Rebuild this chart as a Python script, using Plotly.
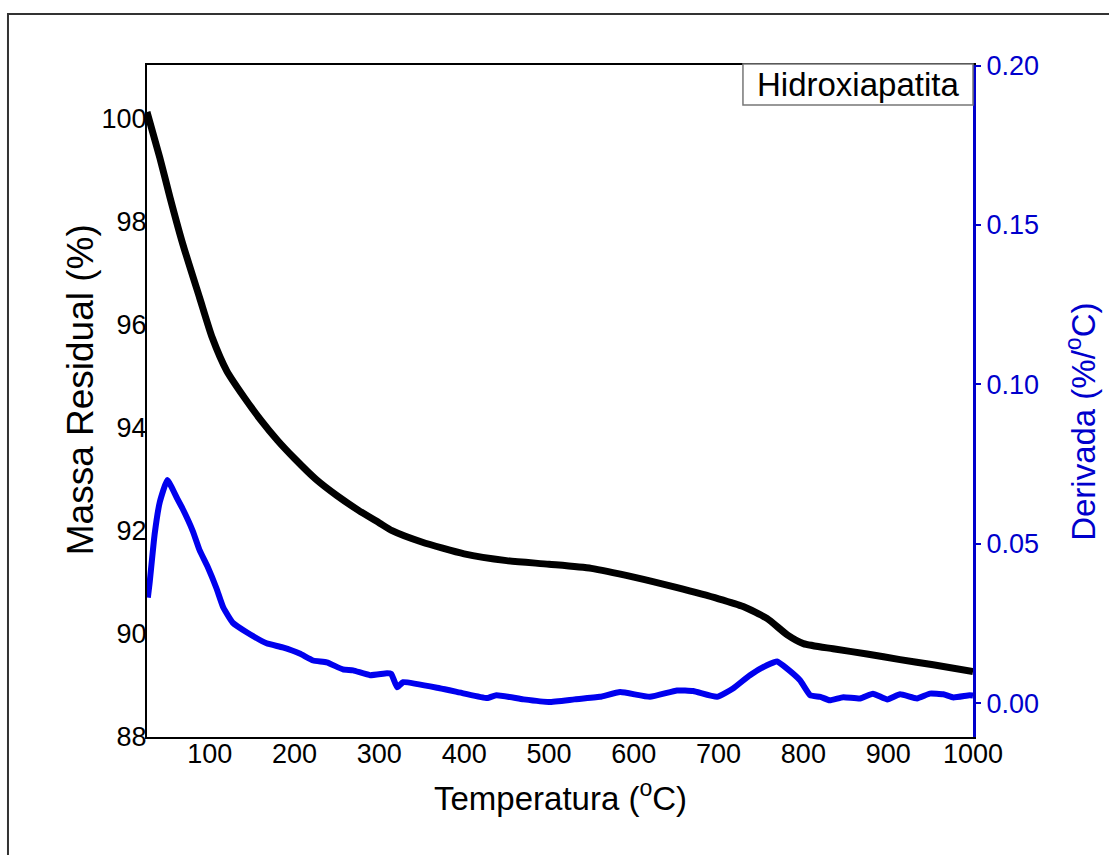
import plotly.graph_objects as go

# TGA of hydroxyapatite: residual mass (%) and its derivative (%/°C)
temp_mass = [26, 41, 53, 68, 88, 103, 120, 140, 160, 180, 200, 225, 250, 275, 300,
             315, 350, 400, 450, 500, 550, 600, 650, 700, 729, 757, 781, 800, 835,
             875, 914, 953, 1000]
mass = [100.12, 99.24, 98.47, 97.57, 96.52, 95.74, 95.1, 94.6, 94.15, 93.75, 93.4,
        93.0, 92.68, 92.4, 92.15, 92.0, 91.78, 91.55, 91.42, 91.35, 91.27, 91.1,
        90.9, 90.68, 90.53, 90.30, 89.98, 89.81, 89.71, 89.61, 89.5, 89.40, 89.27]

temp_deriv = [27, 29, 35, 41, 50, 62, 68, 80, 88, 98, 108, 116, 127, 144, 167, 186,
              206, 222, 238, 257, 269, 289, 309, 314, 321, 328, 371, 399, 427, 438,
              470, 500, 530, 560, 584, 619, 651, 670, 698, 717, 737, 757, 769, 780,
              796, 808, 820, 831, 847, 867, 882, 899, 914, 934, 949, 965, 977, 996, 1000]
deriv = [0.0331, 0.0375, 0.053, 0.063, 0.070, 0.064, 0.061, 0.054, 0.048, 0.0425,
         0.036, 0.030, 0.0253, 0.0222, 0.0188, 0.0175, 0.0156, 0.0134, 0.0128, 0.0106,
         0.0103, 0.0088, 0.0094, 0.0092, 0.005, 0.0066, 0.0047, 0.0031, 0.0016, 0.0025,
         0.0012, 0.0004, 0.0012, 0.002, 0.0035, 0.002, 0.004, 0.0038, 0.002, 0.0046,
         0.0088, 0.0119, 0.0131, 0.011, 0.0072, 0.0025, 0.002, 0.0009, 0.0019, 0.0015,
         0.003, 0.0012, 0.0028, 0.0015, 0.003, 0.0028, 0.0018, 0.0025, 0.0024]

BLUE = "#0000ee"
AXIS_BLUE = "#0000cc"
font_family = "Liberation Sans, Arial, sans-serif"

fig = go.Figure()
fig.add_trace(go.Scatter(x=temp_mass, y=mass, mode="lines",
                         line=dict(color="black", width=7, shape="spline", smoothing=0.6),
                         showlegend=False))
fig.add_trace(go.Scatter(x=temp_deriv, y=deriv, mode="lines", yaxis="y2",
                         line=dict(color=BLUE, width=6, shape="spline", smoothing=0.4),
                         showlegend=False))

fig.update_layout(
    width=1109, height=855,
    margin=dict(l=147, r=136, t=65, b=118),
    paper_bgcolor="white", plot_bgcolor="white",
    font=dict(family=font_family, size=27, color="black"),
    xaxis=dict(range=[26, 1000], tick0=100, dtick=100, showgrid=False, zeroline=False,
               showline=True, linecolor="black", linewidth=2, mirror=True, ticks="",
               ticklabelstandoff=-8, tickfont=dict(size=27)),
    yaxis=dict(range=[88, 101.03], dtick=2, showgrid=False, zeroline=False,
               showline=True, linecolor="black", linewidth=2, ticks="",
               ticklabelstandoff=-7, tickfont=dict(size=27)),
    yaxis2=dict(range=[-0.0106, 0.2002], overlaying="y", side="right",
                tickvals=[0.0, 0.05, 0.10, 0.15, 0.20], tickformat=".2f",
                showgrid=False, zeroline=False, showline=True, linecolor=AXIS_BLUE,
                linewidth=3, ticks="outside", ticklen=5, tickwidth=2, tickcolor=AXIS_BLUE,
                tickfont=dict(size=27, color=AXIS_BLUE)),
    shapes=[
        # outer frame
        dict(type="rect", xref="paper", yref="paper", x0=-0.1683, x1=1.3, y0=-0.4, y1=1.0759,
             line=dict(color="#333333", width=2), fillcolor="rgba(0,0,0,0)", layer="below"),
        # label box
        dict(type="rect", xref="paper", yref="paper", x0=0.7215, x1=1.0, y0=0.9405, y1=1.0015,
             line=dict(color="#777777", width=1.5), fillcolor="white", layer="above"),
    ],
    annotations=[
        dict(text="Hidroxiapatita", xref="paper", yref="paper", x=0.8607, y=0.971,
             xanchor="center", yanchor="middle", showarrow=False,
             font=dict(size=33, color="black", family=font_family)),
        dict(text="Temperatura (<sup>o</sup>C)", xref="paper", yref="paper", x=0.5, y=-0.088,
             xanchor="center", yanchor="middle", showarrow=False,
             font=dict(size=33, color="black", family=font_family)),
        dict(text="Massa Residual (%)", xref="paper", yref="paper", x=-0.0811, y=0.516,
             xanchor="center", yanchor="middle", showarrow=False, textangle=-90,
             font=dict(size=37, color="black", family=font_family)),
        dict(text="Derivada (%/<sup>o</sup>C)", xref="paper", yref="paper", x=1.1308, y=0.469,
             xanchor="center", yanchor="middle", showarrow=False, textangle=-90,
             font=dict(size=33, color=AXIS_BLUE, family=font_family)),
    ],
)

fig.write_html("out.html")
